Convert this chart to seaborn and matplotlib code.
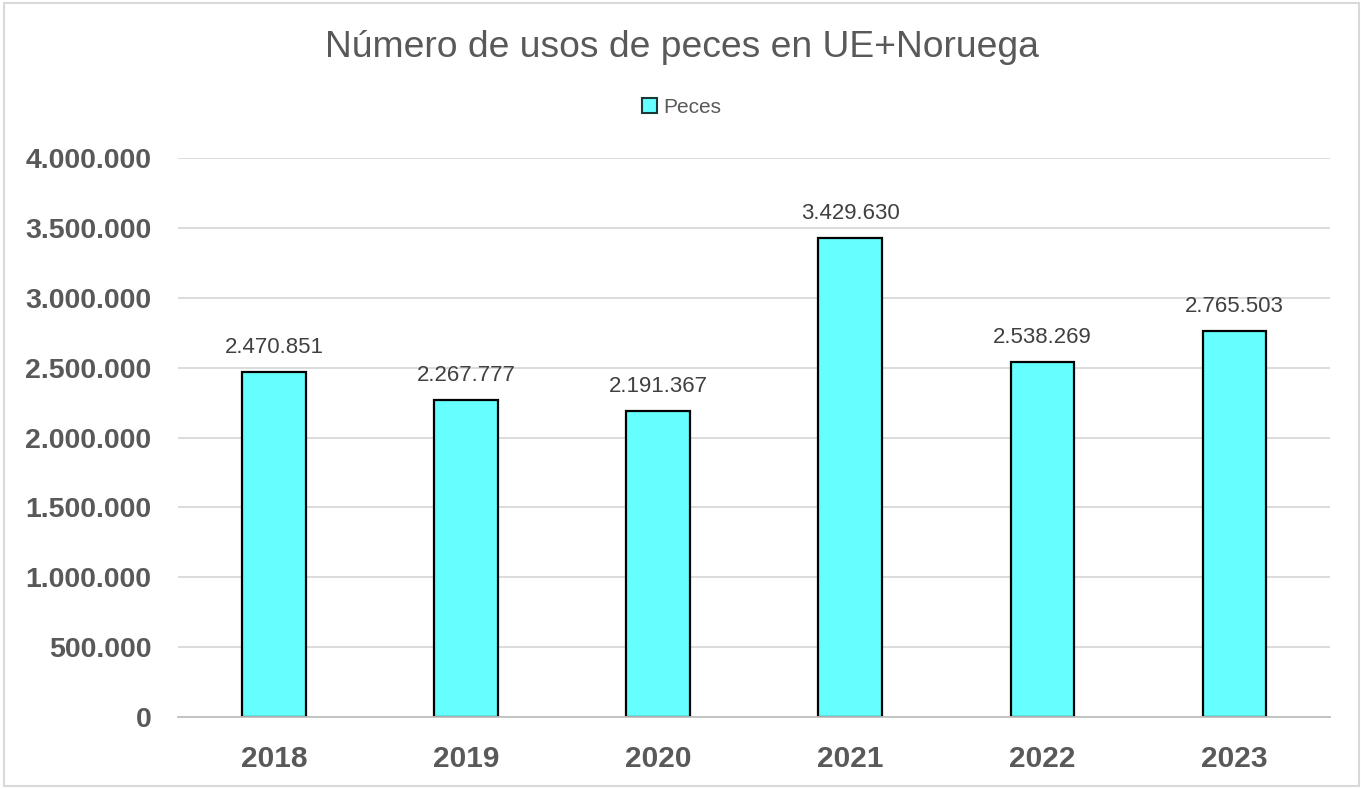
import matplotlib
matplotlib.use('Agg')
import pandas as pd
import seaborn as sns
from matplotlib import pyplot as plt
from matplotlib.patches import Patch, Rectangle

years = ['2018', '2019', '2020', '2021', '2022', '2023']
peces = [2470851, 2267777, 2191367, 3429630, 2538269, 2765503]
yticks = [0, 500000, 1000000, 1500000, 2000000, 2500000, 3000000, 3500000, 4000000]

def fmt(v):
    return f'{v:,}'.replace(',', '.')

data = pd.DataFrame({'year': years, 'peces': peces})

sns.set_style('white')
plt.rcParams['font.family'] = ['Liberation Sans', 'DejaVu Sans']

fig = plt.figure(figsize=(13.63, 7.89), dpi=100)
ax = fig.add_axes([0.1306, 0.0913, 0.8454, 0.7084])

sns.barplot(data=data, x='year', y='peces', color='#66FFFF', saturation=1,
            width=0.33, edgecolor='black', linewidth=1.6, ax=ax)

ax.set_xlim(-0.5, 5.5)
ax.set_ylim(0, 4000000)
ax.set_yticks(yticks)
ax.set_yticklabels([fmt(v) for v in yticks])
ax.grid(axis='y', color='#D9D9D9', linewidth=1.3)
ax.set_axisbelow(True)
for s in ['top', 'right', 'left']:
    ax.spines[s].set_visible(False)
ax.spines['bottom'].set_color('#BFBFBF')
ax.spines['bottom'].set_linewidth(1.3)
ax.tick_params(axis='y', length=0, pad=19, labelsize=20.5, labelcolor='#595959')
ax.tick_params(axis='x', length=0, pad=20, labelsize=21.5, labelcolor='#595959')
for lab in ax.get_xticklabels() + ax.get_yticklabels():
    lab.set_fontweight('bold')
ax.set_xlabel('')
ax.set_ylabel('')

for i, v in enumerate(peces):
    ax.annotate(fmt(v), (i, v), xytext=(0, 10), textcoords='offset points',
                ha='center', va='bottom', fontsize=16, color='#404040')

fig.text(0.5, 0.94, 'Número de usos de peces en UE+Noruega', ha='center', va='center',
         fontsize=26.8, color='#595959')
fig.legend(handles=[Patch(facecolor='#66FFFF', edgecolor='#1a3a3a', linewidth=1.5, label='Peces')],
           loc='center', bbox_to_anchor=(0.5, 0.864), frameon=False, fontsize=15,
           labelcolor='#595959', handlelength=0.7, handleheight=0.7, handletextpad=0.3)

fig.patches.append(Rectangle((0.003, 0.004), 0.994, 0.992, transform=fig.transFigure,
                             fill=False, edgecolor='#D9D9D9', linewidth=1.5))

fig.savefig('out.png', dpi=100)
